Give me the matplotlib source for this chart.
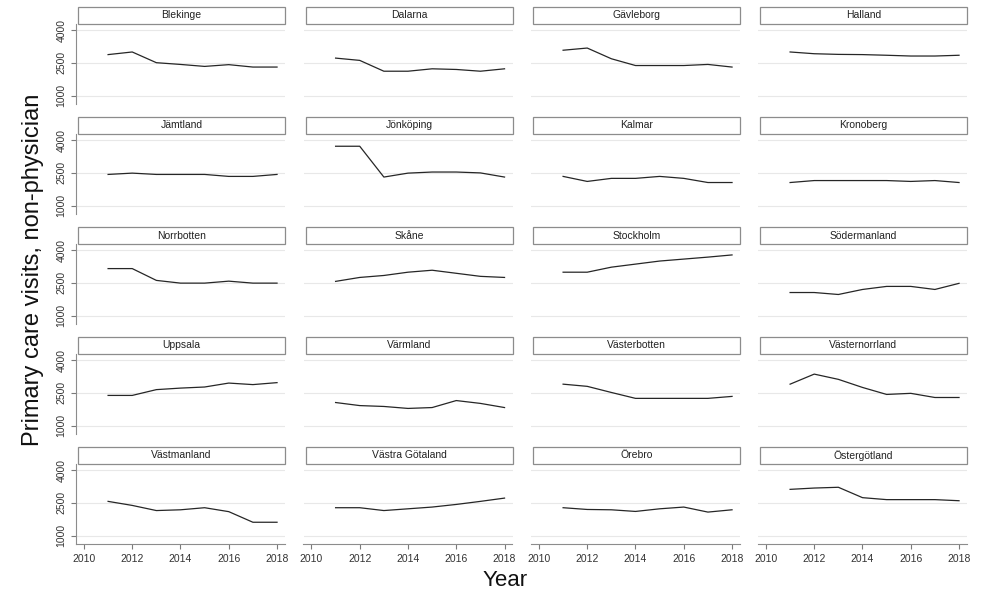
import matplotlib
matplotlib.use('Agg')
import matplotlib.pyplot as plt
from matplotlib.patches import Rectangle

plt.rcParams['font.family'] = ['Liberation Sans', 'DejaVu Sans']

# %% data
years = [2011, 2012, 2013, 2014, 2015, 2016, 2017, 2018]

counties = ['Blekinge', 'Dalarna', 'Gävleborg', 'Halland',
            'Jämtland', 'Jönköping', 'Kalmar', 'Kronoberg',
            'Norrbotten', 'Skåne', 'Stockholm', 'Södermanland',
            'Uppsala', 'Värmland', 'Västerbotten', 'Västernorrland',
            'Västmanland', 'Västra Götaland', 'Örebro', 'Östergötland']

blekinge = [2880, 3000, 2510, 2430, 2340, 2420, 2310, 2310]
dalarna = [2720, 2615, 2120, 2120, 2230, 2200, 2120, 2230]
gavleborg = [3080, 3180, 2690, 2380, 2380, 2380, 2430, 2310]
halland = [3000, 2920, 2890, 2880, 2850, 2815, 2815, 2850]
jamtland = [2430, 2490, 2430, 2430, 2430, 2340, 2340, 2430]
jonkoping = [3720, 3720, 2310, 2490, 2540, 2540, 2500, 2310]
kalmar = [2340, 2110, 2250, 2250, 2340, 2250, 2060, 2060]
kronoberg = [2060, 2150, 2150, 2150, 2150, 2110, 2150, 2060]
norrbotten = [3155, 3155, 2615, 2490, 2490, 2580, 2490, 2490]
skane = [2570, 2750, 2840, 2990, 3080, 2940, 2800, 2750]
stockholm = [2990, 2990, 3220, 3360, 3500, 3590, 3680, 3780]
sodermanland = [2060, 2060, 1970, 2200, 2340, 2340, 2200, 2480]
uppsala = [2385, 2385, 2650, 2720, 2770, 2950, 2880, 2970]
varmland = [2060, 1920, 1880, 1790, 1830, 2150, 2020, 1830]
vasterbotten = [2900, 2800, 2520, 2250, 2250, 2250, 2250, 2340]
vasternorrland = [2900, 3360, 3120, 2750, 2430, 2480, 2290, 2290]
vastmanland = [2570, 2385, 2150, 2185, 2280, 2100, 1615, 1615]
vastra_gotaland = [2280, 2280, 2150, 2230, 2310, 2430, 2570, 2720]
orebro = [2280, 2200, 2185, 2110, 2230, 2310, 2080, 2185]
ostergotland = [3120, 3180, 3215, 2740, 2650, 2650, 2650, 2600]

series = [blekinge, dalarna, gavleborg, halland,
          jamtland, jonkoping, kalmar, kronoberg,
          norrbotten, skane, stockholm, sodermanland,
          uppsala, varmland, vasterbotten, vasternorrland,
          vastmanland, vastra_gotaland, orebro, ostergotland]

yticks = [1000, 2500, 4000]
xticks = [2010, 2012, 2014, 2016, 2018]

# %% layout (pixels)
W, H = 994, 596
fig = plt.figure(figsize=(W / 100, H / 100), dpi=100)


def rect(left, top, w, h):
    return [left / W, 1 - (top + h) / H, w / W, h / H]


col_left = [76, 303.5, 531, 758]
panel_w = 209
title_h = 17
plot_h = 80
row_pitch = 110

for i, (name, vals) in enumerate(zip(counties, series)):
    r, c = divmod(i, 4)
    left = col_left[c]
    top = 7 + row_pitch * r

    # title strip
    fig.add_artist(Rectangle((left / W + 2 / W, 1 - (top + title_h) / H),
                             (panel_w - 2) / W, title_h / H,
                             transform=fig.transFigure, facecolor='white',
                             edgecolor='#8c8c8c', lw=0.9))
    fig.text((left + 1 + panel_w / 2) / W, 1 - (top + title_h / 2) / H, name,
             ha='center', va='center', fontsize=7.5, color='#222222')

    ax = fig.add_axes(rect(left, top + title_h, panel_w, plot_h))
    ax.plot(years, vals, color='#262626', lw=0.9)
    ax.set_xlim(2009.67, 2018.33)
    ax.set_ylim(620, 4280)
    ax.set_yticks(yticks)
    ax.set_xticks(xticks)
    ax.yaxis.grid(True, color='#e8e8e8', lw=0.8)
    ax.set_axisbelow(True)
    for s in ax.spines.values():
        s.set_visible(False)
    ax.tick_params(colors='#7a7a7a', labelcolor='#333333', length=3.5,
                   width=0.8, labelsize=7.5)

    if c == 0:
        ax.spines['left'].set_visible(True)
        ax.spines['left'].set_color('#8c8c8c')
        ax.set_yticklabels([str(t) for t in yticks], rotation=90, va='center')
    else:
        ax.tick_params(left=False, labelleft=False)

    if r == 4:
        ax.spines['bottom'].set_visible(True)
        ax.spines['bottom'].set_color('#8c8c8c')
    else:
        ax.tick_params(bottom=False, labelbottom=False)

fig.text(33 / W, 1 - 270 / H, 'Primary care visits, non-physician',
         rotation=90, ha='center', va='center', fontsize=17, color='#111111')
fig.text(505 / W, 1 - 580 / H, 'Year', ha='center', va='center',
         fontsize=16, color='#111111')

fig.savefig('out.png', dpi=100)
